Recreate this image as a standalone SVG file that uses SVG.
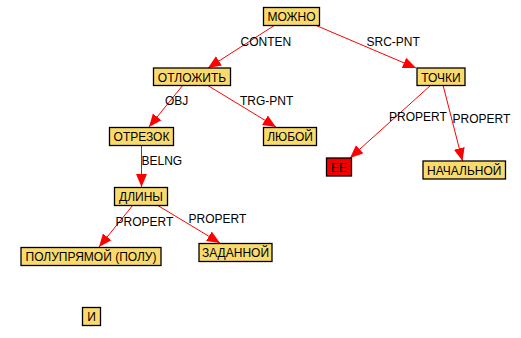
<svg xmlns="http://www.w3.org/2000/svg" width="521" height="338" viewBox="0 0 521 338">
  <style>
    .box { fill: #fada6c; stroke: #000; stroke-width: 1.3; }
    .box.hl { fill: #f20000; }
    .lbl { font-family: "Liberation Sans", Arial, sans-serif; font-size: 12px; fill: #000; }
    .nt { font-family: "Liberation Sans", Arial, sans-serif; font-size: 12px; fill: #000; text-anchor: middle; }
    .edge { stroke: #f00; stroke-width: 1; fill: none; marker-end: url(#arr); }
  </style>
  <defs>
    <marker id="arr" markerUnits="userSpaceOnUse" markerWidth="14" markerHeight="12" refX="13" refY="6" orient="auto">
      <path d="M0,0.5 L13,6 L0,11.5 Z" fill="#f00"/>
    </marker>
  </defs>
  <rect width="521" height="338" fill="#fff"/>

  <g id="connectors">
    <line class="edge" x1="275" y1="25" x2="208" y2="68"/>
    <line class="edge" x1="315" y1="25" x2="416" y2="68"/>
    <line class="edge" x1="183" y1="85" x2="149" y2="127"/>
    <line class="edge" x1="207" y1="85" x2="276" y2="127"/>
    <line class="edge" x1="141.5" y1="145" x2="141.5" y2="187"/>
    <line class="edge" x1="133" y1="205" x2="99" y2="247"/>
    <line class="edge" x1="157" y1="205" x2="220" y2="243"/>
    <line class="edge" x1="431" y1="85" x2="350" y2="158"/>
    <line class="edge" x1="443" y1="85" x2="462.5" y2="161"/>
    <text class="lbl" x="240.5" y="46">CONTEN</text>
    <text class="lbl" x="366.5" y="46">SRC-PNT</text>
    <text class="lbl" x="165" y="105">OBJ</text>
    <text class="lbl" x="240" y="105">TRG-PNT</text>
    <text class="lbl" x="141.5" y="165">BELNG</text>
    <text class="lbl" x="115.5" y="226">PROPERT</text>
    <text class="lbl" x="188.5" y="223">PROPERT</text>
    <text class="lbl" x="389" y="121">PROPERT</text>
    <text class="lbl" x="452.5" y="123">PROPERT</text>
  </g>

  <g id="n-mozhno"><rect class="box" x="263.5" y="7.5" width="56" height="18"/><text class="nt" x="291.5" y="21">МОЖНО</text></g>
  <g id="n-otlozhit"><rect class="box" x="153.5" y="68" width="77" height="17.5"/><text class="nt" x="192" y="81.5">ОТЛОЖИТЬ</text></g>
  <g id="n-tochki"><rect class="box" x="417" y="68" width="48" height="17.5"/><text class="nt" x="441" y="81.5">ТОЧКИ</text></g>
  <g id="n-otrezok"><rect class="box" x="109.5" y="127.5" width="64" height="18"/><text class="nt" x="141.5" y="141">ОТРЕЗОК</text></g>
  <g id="n-lyuboy"><rect class="box" x="263.5" y="127.5" width="53" height="18"/><text class="nt" x="290" y="141">ЛЮБОЙ</text></g>
  <g id="n-dliny"><rect class="box" x="114.5" y="187.5" width="53" height="18"/><text class="nt" x="141" y="201">ДЛИНЫ</text></g>
  <g id="n-polupryamoy"><rect class="box" x="21" y="247.5" width="140" height="18"/><text class="nt" x="91" y="261">ПОЛУПРЯМОЙ (ПОЛУ)</text></g>
  <g id="n-zadannoy"><rect class="box" x="199" y="243.5" width="73" height="18"/><text class="nt" x="235.5" y="257">ЗАДАННОЙ</text></g>
  <g id="n-ee"><rect class="box hl" x="326.5" y="158" width="25" height="18"/><text class="nt" x="339" y="171.5">ЕЕ</text></g>
  <g id="n-nachalnoy"><rect class="box" x="423" y="161" width="82.5" height="18"/><text class="nt" x="464.25" y="174.5">НАЧАЛЬНОЙ</text></g>
  <g id="n-i"><rect class="box" x="82.5" y="307.5" width="18" height="18"/><text class="nt" x="91.5" y="321">И</text></g>
</svg>
